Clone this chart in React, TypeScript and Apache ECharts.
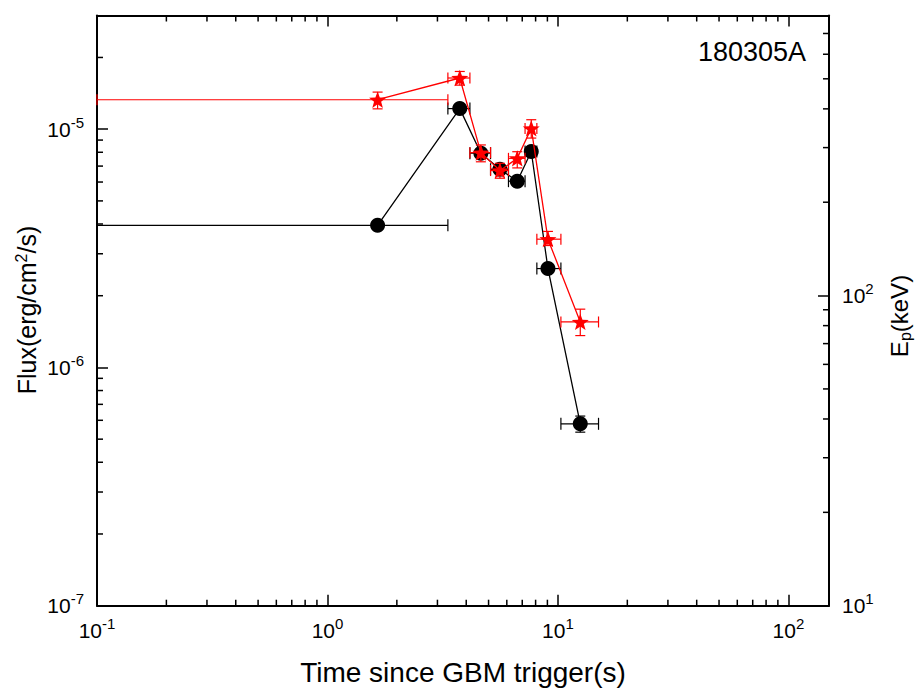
import React, { useEffect, useRef } from 'react';
import * as echarts from 'echarts';

const FONT = '"Liberation Sans", Arial, Helvetica, sans-serif';

// Axis ranges
const X_MIN = 0.1;
const X_MAX = 150;
const FLUX_MIN = 1e-7;
const FLUX_MAX = 3e-5;
const EP_MIN = 10;
const EP_MAX = 800;

const burstName = '180305A';

// Time bins (s)
const times = [1.65, 3.75, 4.63, 5.6, 6.66, 7.66, 9.05, 12.5];
const tStart = [0, 3.33, 4.15, 5.1, 6.1, 7.2, 8.1, 10.3];
const tEnd = [3.33, 4.15, 5.1, 6.1, 7.2, 8.1, 10.3, 15.0];

// Flux (erg/cm^2/s), black circles, left axis
const flux = [3.95e-6, 1.22e-5, 7.93e-6, 6.79e-6, 6.05e-6, 8.06e-6, 2.6e-6, 5.8e-7];
const fluxLo = [3.85e-6, 1.18e-5, 7.63e-6, 6.54e-6, 5.85e-6, 7.71e-6, 2.5e-6, 5.35e-7];
const fluxHi = [4.05e-6, 1.26e-5, 8.23e-6, 7.04e-6, 6.25e-6, 8.41e-6, 2.7e-6, 6.25e-7];

// Peak energy (keV), red stars, right axis
const ep = [428, 503, 289, 253, 277, 346, 152, 82.2];
const epLo = [400, 477, 270, 239, 258, 322, 145, 74.3];
const epHi = [453, 528, 306, 267, 291, 369, 161, 90.4];

// Minor tick positions
const xMinorTicks = [0.2, 0.3, 0.4, 0.5, 0.6, 0.7, 0.8, 0.9, 2, 3, 4, 5, 6, 7, 8, 9, 20, 30, 40, 50, 60, 70, 80, 90];
const fluxMinorTicks = [2e-7, 3e-7, 4e-7, 5e-7, 6e-7, 7e-7, 8e-7, 9e-7, 2e-6, 3e-6, 4e-6, 5e-6, 6e-6, 7e-6, 8e-6, 9e-6, 2e-5];
const epMinorTicks = [20, 30, 40, 50, 60, 70, 80, 90, 200, 300, 400, 500, 600, 700];

const STAR = 'path://M12,0 L15.1,8.4 L24,8.7 L17,14.3 L19.5,23 L12,17.9 L4.5,23 L7,14.3 L0,8.7 L8.9,8.4 Z';

const powLabel = (v: number) => {
  const l = Math.log10(v);
  const e = Math.round(l);
  if (Math.abs(l - e) > 1e-6) return '';
  return `{b|10}{s|${e}}`;
};

const labelRich = {
  b: { fontSize: 21, fontFamily: FONT, color: '#000' },
  s: { fontSize: 15, fontFamily: FONT, color: '#000', padding: [0, 0, 14, 0] },
};

function tickSeries(values: number[], orient: string, yAxisIndex: number, len: number) {
  return {
    type: 'custom',
    xAxisIndex: 0,
    yAxisIndex,
    z: 1,
    silent: true,
    data: values.map((v) =>
      orient === 'bottom' || orient === 'top' ? [v, yAxisIndex === 0 ? 1e-6 : 50] : [1, v]
    ),
    renderItem: (params: any, api: any) => {
      const cs = params.coordSys;
      const p = api.coord([api.value(0), api.value(1)]);
      let shape;
      if (orient === 'bottom') shape = { x1: p[0], y1: cs.y + cs.height, x2: p[0], y2: cs.y + cs.height - len };
      else if (orient === 'top') shape = { x1: p[0], y1: cs.y, x2: p[0], y2: cs.y + len };
      else if (orient === 'left') shape = { x1: cs.x, y1: p[1], x2: cs.x + len, y2: p[1] };
      else shape = { x1: cs.x + cs.width, y1: p[1], x2: cs.x + cs.width - len, y2: p[1] };
      return { type: 'line', shape, style: { stroke: '#000', lineWidth: 1.5 } };
    },
  };
}

function errorSeries(vals: number[], lo: number[], hi: number[], yAxisIndex: number, color: string, capX: number, capY: number, z: number) {
  return {
    type: 'custom',
    xAxisIndex: 0,
    yAxisIndex,
    z,
    silent: true,
    encode: { x: [0, 1, 2], y: [3, 4, 5] },
    data: times.map((t, i) => [t, Math.max(tStart[i], X_MIN), tEnd[i], vals[i], lo[i], hi[i]]),
    renderItem: (params: any, api: any) => {
      const t = api.value(0);
      const v = api.value(3);
      const l = api.coord([api.value(1), v]);
      const r = api.coord([api.value(2), v]);
      const b = api.coord([t, api.value(4)]);
      const u = api.coord([t, api.value(5)]);
      const style = { stroke: color, lineWidth: 1.2 };
      const ln = (x1: number, y1: number, x2: number, y2: number) => ({ type: 'line', shape: { x1, y1, x2, y2 }, style });
      return {
        type: 'group',
        children: [
          ln(l[0], l[1], r[0], r[1]),
          ln(l[0], l[1] - capX, l[0], l[1] + capX),
          ln(r[0], r[1] - capX, r[0], r[1] + capX),
          ln(b[0], b[1], u[0], u[1]),
          ln(b[0] - capY, b[1], b[0] + capY, b[1]),
          ln(u[0] - capY, u[1], u[0] + capY, u[1]),
        ],
      };
    },
  };
}

const axisCommon = {
  type: 'log',
  logBase: 10,
  axisLine: { show: true, lineStyle: { color: '#000', width: 2 } },
  axisTick: { show: true, inside: true, length: 11, lineStyle: { color: '#000', width: 1.5 } },
  splitLine: { show: false },
  minorTick: { show: false },
  minorSplitLine: { show: false },
};

export default function App() {
  const ref = useRef<HTMLDivElement>(null);
  useEffect(() => {
    if (!ref.current) return;
    const chart = echarts.init(ref.current, undefined, { renderer: 'svg' });
    const option: any = {
      animation: false,
      backgroundColor: '#fff',
      grid: { left: 97, right: 88, top: 15.5, bottom: 89.3, containLabel: false, outerBoundsMode: 'none' },
      xAxis: [
        {
          ...axisCommon,
          position: 'bottom',
          min: X_MIN,
          max: X_MAX,
          axisLabel: { show: true, margin: 10, formatter: powLabel, rich: labelRich, showMaxLabel: false },
        },
        {
          ...axisCommon,
          position: 'top',
          min: X_MIN,
          max: X_MAX,
          axisLabel: { show: false },
        },
      ],
      yAxis: [
        {
          ...axisCommon,
          position: 'left',
          min: FLUX_MIN,
          max: FLUX_MAX,
          axisLabel: { show: true, margin: 13, formatter: powLabel, rich: labelRich, showMaxLabel: false },
        },
        {
          ...axisCommon,
          position: 'right',
          min: EP_MIN,
          max: EP_MAX,
          axisLabel: { show: true, margin: 13, formatter: powLabel, rich: labelRich, showMaxLabel: false },
        },
      ],
      series: [
        tickSeries(xMinorTicks, 'bottom', 0, 6),
        tickSeries(xMinorTicks, 'top', 0, 6),
        tickSeries(fluxMinorTicks, 'left', 0, 6),
        tickSeries(epMinorTicks, 'right', 1, 6),
        errorSeries(flux, fluxLo, fluxHi, 0, '#000', 6, 5, 2),
        {
          type: 'line',
          xAxisIndex: 0,
          yAxisIndex: 0,
          z: 3,
          data: times.map((t, i) => [t, flux[i]]),
          symbol: 'circle',
          symbolSize: 15,
          itemStyle: { color: '#000' },
          lineStyle: { color: '#000', width: 1.3 },
        },
        errorSeries(ep, epLo, epHi, 1, '#ff0000', 5.5, 5, 4),
        {
          type: 'line',
          xAxisIndex: 0,
          yAxisIndex: 1,
          z: 5,
          data: times.map((t, i) => [t, ep[i]]),
          symbol: STAR,
          symbolSize: 17,
          symbolKeepAspect: true,
          itemStyle: { color: '#ff0000' },
          lineStyle: { color: '#ff0000', width: 1.3 },
        },
      ],
      graphic: [
        {
          type: 'text',
          x: 806,
          y: 52,
          style: {
            text: burstName,
            fontSize: 27,
            fontFamily: FONT,
            fill: '#000',
            align: 'right',
            verticalAlign: 'middle',
            textAlign: 'right',
            textVerticalAlign: 'middle',
          },
        },
        {
          type: 'text',
          x: 463,
          y: 672,
          style: {
            text: 'Time since GBM trigger(s)',
            fontSize: 28,
            fontFamily: FONT,
            fill: '#000',
            align: 'center',
            verticalAlign: 'middle',
            textAlign: 'center',
            textVerticalAlign: 'middle',
          },
        },
        {
          type: 'text',
          x: 27,
          y: 310,
          rotation: Math.PI / 2,
          style: {
            text: '{a|Flux(erg/cm}{s|2}{a|/s)}',
            rich: {
              a: { fontSize: 25, fontFamily: FONT, fill: '#000', color: '#000' },
              s: { fontSize: 16, fontFamily: FONT, fill: '#000', color: '#000', padding: [0, 0, 12, 0] },
            },
            fontSize: 25,
            fontFamily: FONT,
            fill: '#000',
            align: 'center',
            verticalAlign: 'middle',
            textAlign: 'center',
            textVerticalAlign: 'middle',
          },
        },
        {
          type: 'text',
          x: 899,
          y: 316,
          rotation: Math.PI / 2,
          style: {
            text: '{a|E}{p|p}{a|(keV)}',
            rich: {
              a: { fontSize: 24, fontFamily: FONT, fill: '#000', color: '#000' },
              p: { fontSize: 16, fontFamily: FONT, fill: '#000', color: '#000', padding: [12, 0, 0, 0] },
            },
            fontSize: 24,
            fontFamily: FONT,
            fill: '#000',
            align: 'center',
            verticalAlign: 'middle',
            textAlign: 'center',
            textVerticalAlign: 'middle',
          },
        },
      ],
    };
    chart.setOption(option);
    return () => chart.dispose();
  }, []);
  return (
    <div
      ref={ref}
      style={{ position: 'fixed', left: 0, top: 0, width: 917, height: 695, background: '#fff' }}
    />
  );
}
